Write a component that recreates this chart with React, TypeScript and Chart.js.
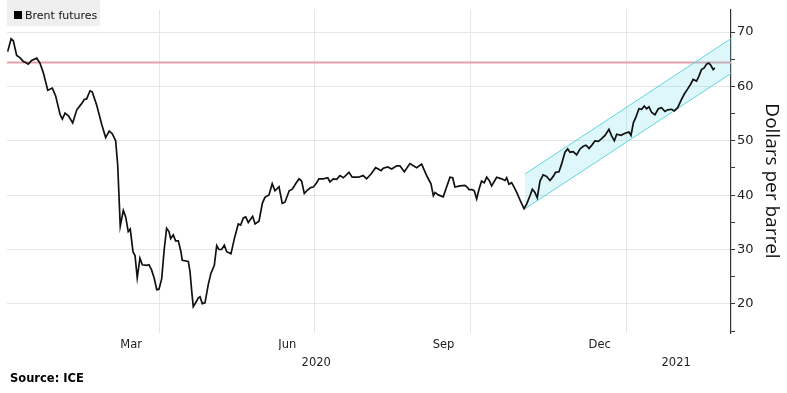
import React, { useEffect, useRef } from 'react';
import { Chart, registerables } from 'chart.js';

Chart.register(...registerables);

// Day index: days since 1 Jan 2020
const brentDays = [
  1.3, 3.3, 4.6, 6.6, 8.5, 10.5, 11.9, 13.4, 15.4, 18.4, 20.3, 22.3, 24.9, 27.6, 29.6, 32.2, 33.5, 35.1, 37.1, 39.6,
  42.0, 44.5, 46.4, 47.8, 49.8, 51.1, 53.7, 56.7, 59.0, 61.1, 62.9, 64.9, 66.1, 67.6, 69.4, 70.8, 72.3, 73.5, 75.1, 76.3,
  77.6, 79.2, 80.6, 83.2, 84.5, 86.1, 87.6, 89.1, 90.4, 92.0, 93.5, 94.9, 96.3, 97.3, 98.8, 100.2, 101.8, 103.4,
  104.1, 107.7, 108.7, 109.7, 110.6, 112.0, 113.6, 114.6, 115.9, 117.5, 119.4, 121.0, 123.0, 124.4, 125.7, 127.3, 128.9,
  130.3, 132.8, 134.8, 137.1, 138.5, 140.1, 141.5, 143.0, 145.6, 147.0, 149.3, 151.3, 152.8, 155.2, 157.1, 158.7, 161.1,
  163.0, 164.6, 167.1, 168.9, 170.9, 172.9, 174.4, 176.0, 177.7, 179.7, 181.3, 183.3, 184.6, 187.2, 189.8, 191.1, 193.1,
  195.1, 197.0, 199.0,
  202.3, 204.2, 207.8, 210.7, 212.7, 215.3, 218.0, 219.6, 221.2, 222.5, 225.1, 227.5, 230.4, 232.3, 234.9, 238.2, 240.2,
  242.2, 245.1, 247.1, 248.7, 250.6, 252.0, 253.0, 254.9, 257.8, 259.8, 261.8, 263.4, 264.7, 267.7, 270.6, 272.2, 273.0,
  274.9, 276.1, 277.5, 278.9, 280.4, 282.0, 283.4, 284.9, 286.3, 289.3, 292.2, 294.2, 295.2, 296.5, 298.1, 299.7, 301.1,
  303.6,
  305.4, 307.0, 308.9, 310.3, 311.8, 313.2, 314.8, 316.7, 318.7, 320.7, 322.6, 324.0, 326.0, 327.6, 329.5, 331.1, 332.5,
  334.4, 336.4, 338.4, 340.3, 341.9, 343.7, 345.6, 347.2, 349.2, 351.1, 353.1, 355.4, 357.0, 358.6, 360.0, 362.5, 364.9,
  367.2, 368.4, 369.8, 371.1, 373.1, 374.7, 376.2, 377.6, 379.0, 380.6, 382.5, 384.5, 386.4, 388.4, 390.0, 392.3, 393.9,
  395.9, 397.8, 399.8, 401.7, 403.7, 405.0, 407.0, 408.4, 409.9, 411.5, 412.9, 414.2, 415.4, 416.8, 417.8,
];

const brentPrices = [
  66.4, 68.75, 68.4, 65.7, 65.3, 64.6, 64.4, 64.1, 64.8, 65.2, 64.3, 62.5, 59.3, 59.7, 58.2, 54.8, 54.0, 55.1, 54.6, 53.3,
  55.7, 56.7, 57.6, 57.7, 59.2, 59.0, 56.6, 53.0, 50.6, 51.8, 51.3, 50.0, 45.5, 34.3, 37.2, 36.0, 33.3, 33.75, 29.6, 28.9,
  24.8, 28.4, 27.2, 27.1, 27.2, 26.2, 24.7, 22.6, 22.7, 24.6, 30.05, 33.9, 33.3, 32.0, 32.7, 31.6, 31.6, 29.5,
  28.0, 27.8, 25.9, 22.3, 19.5, 20.2, 21.1, 21.3, 20.05, 20.2, 23.5, 25.6, 27.1, 30.7, 30.0, 30.0, 30.8,
  29.6, 29.2, 32.0, 34.7, 34.5, 35.8, 36.0, 34.95, 36.1, 34.7, 35.2, 38.5, 39.6, 40.05, 42.1, 40.8, 41.55,
  38.5, 38.7, 40.8, 41.1, 42.1, 43.0, 42.6, 40.3, 40.9, 41.4, 41.5, 42.3, 43.0, 43.0, 43.2, 42.45, 43.0,
  42.9, 43.6, 43.2,
  44.2, 43.3, 43.3, 43.6, 43.0, 43.9, 45.05, 44.8, 44.5, 44.95, 45.2, 44.8, 45.4, 45.4, 44.3, 45.8, 45.4,
  45.05, 45.7, 44.3, 43.2, 42.1, 39.9, 40.5, 40.05, 39.7, 41.5, 43.3, 43.2, 41.5, 41.7, 41.8, 41.4, 41.0,
  41.0, 40.8, 39.3, 41.1, 42.6, 42.3, 43.3, 42.7, 41.7, 43.3, 43.0, 42.7, 43.2, 42.0, 42.3, 41.4, 40.5,
  38.7,
  37.5, 38.4, 39.9, 41.1, 40.5, 39.5, 42.6, 43.75, 43.45, 42.7, 43.45, 44.2, 44.3, 45.8, 47.9, 48.5, 47.9,
  48.0, 47.4, 48.5, 49.0, 49.2, 48.6, 49.3, 50.0, 49.9, 50.4, 51.0, 52.1, 50.9, 50.0, 51.2, 51.0, 51.4,
  51.6, 51.0, 53.3, 54.2, 55.9, 55.8, 56.4, 55.9, 56.25, 55.2, 54.8, 55.9, 56.1, 55.4, 55.7, 55.8, 55.5,
  56.1, 57.4, 58.6, 59.5, 60.5, 61.3, 61.0, 61.9, 63.1, 63.4, 64.1, 64.3, 63.9, 63.1, 63.4,
];

// Trend channel (start / end day, lower and upper bound values)
const channelDays = [306, 427.3];
const channelLower = [37.5, 62.4];
const channelUpper = [43.9, 68.8];

// Horizontal reference level
const refLevel = 64.4;

// Axis ranges and ticks
const xRange = [0.9, 427.3];
const yRange = [14.64, 74.1];
const gridDays = [91, 182, 274, 366];
const monthDays = [74, 166, 258, 350];
const monthLabels = ['Mar', 'Jun', 'Sep', 'Dec'];
const yearDays = [183, 395];
const yearLabels = ['2020', '2021'];
const yTicks = [15, 20, 25, 30, 35, 40, 45, 50, 55, 60, 65, 70];

const legendLabel = 'Brent futures';
const yTitle = 'Dollars per barrel';
const sourceText = 'Source: ICE';

const FONT = '"DejaVu Sans", sans-serif';

export default function App() {
  const ref = useRef<HTMLCanvasElement | null>(null);

  useEffect(() => {
    const canvas = ref.current;
    if (!canvas) return;

    const decor = {
      id: 'decor',
      afterDraw(chart: any) {
        const ctx = chart.ctx;
        ctx.save();
        // legend box
        ctx.fillStyle = '#efefef';
        ctx.fillRect(7, 0, 93, 26);
        ctx.fillStyle = '#000';
        ctx.fillRect(14, 11, 8, 8);
        ctx.font = '11px ' + FONT;
        ctx.textBaseline = 'alphabetic';
        ctx.textAlign = 'left';
        ctx.fillStyle = '#111';
        ctx.fillText(legendLabel, 25, 19);
        // source
        ctx.font = 'bold 11.5px ' + FONT;
        ctx.fillStyle = '#000';
        ctx.fillText(sourceText, 10, 382);
        // y title
        ctx.translate(771, 181);
        ctx.rotate(Math.PI / 2);
        ctx.textAlign = 'center';
        ctx.textBaseline = 'middle';
        ctx.font = '19px "Open Sans", sans-serif';
        ctx.fillStyle = '#111';
        ctx.fillText(yTitle, 0, 0);
        ctx.restore();
      },
    };

    const chart = new Chart(canvas, {
      type: 'line',
      data: {
        datasets: [
          {
            label: legendLabel,
            data: brentDays.map((d, i) => ({ x: d, y: brentPrices[i] })),
            borderColor: '#111',
            borderWidth: 1.7,
            pointRadius: 0,
            tension: 0,
            fill: false,
            order: 0,
          },
          {
            label: 'lower',
            data: channelDays.map((d, i) => ({ x: d, y: channelLower[i] })),
            borderColor: '#62d4dc',
            borderWidth: 1,
            pointRadius: 0,
            fill: false,
            order: 1,
          },
          {
            label: 'upper',
            data: channelDays.map((d, i) => ({ x: d, y: channelUpper[i] })),
            borderColor: '#62d4dc',
            borderWidth: 1,
            pointRadius: 0,
            fill: '-1',
            backgroundColor: 'rgba(100,220,230,0.22)',
            order: 2,
          },
          {
            label: 'ref',
            data: [
              { x: xRange[0], y: refLevel },
              { x: xRange[1], y: refLevel },
            ],
            borderColor: '#e3a2ab',
            borderWidth: 2,
            pointRadius: 0,
            fill: false,
            order: 3,
          },
        ],
      },
      options: {
        responsive: false,
        animation: false,
        devicePixelRatio: 1,
        layout: { padding: { left: 7, top: 0, right: 0, bottom: 25 } },
        plugins: {
          legend: { display: false },
          tooltip: { enabled: false },
          title: { display: false },
        },
        scales: {
          x: {
            type: 'linear',
            position: 'bottom',
            min: xRange[0],
            max: xRange[1],
            afterBuildTicks: (s: any) => {
              s.ticks = gridDays.map((v) => ({ value: v }));
            },
            grid: { color: '#e6e6e6', lineWidth: 1, drawTicks: false },
            border: { display: false },
            ticks: { display: false },
            afterFit: (s: any) => {
              s.height = 0;
            },
          },
          xm: {
            type: 'linear',
            position: 'bottom',
            min: xRange[0],
            max: xRange[1],
            afterBuildTicks: (s: any) => {
              s.ticks = monthDays.map((v) => ({ value: v }));
            },
            grid: { display: false, drawTicks: false },
            border: { display: false },
            ticks: {
              autoSkip: false,
              maxRotation: 0,
              padding: 5,
              color: '#222',
              font: { family: FONT, size: 11.5 },
              callback: (_v: any, i: number) => monthLabels[i],
            },
            afterFit: (s: any) => {
              s.height = 17;
            },
          },
          xy: {
            type: 'linear',
            position: 'bottom',
            min: xRange[0],
            max: xRange[1],
            afterBuildTicks: (s: any) => {
              s.ticks = yearDays.map((v) => ({ value: v }));
            },
            grid: { display: false, drawTicks: false },
            border: { display: false },
            ticks: {
              autoSkip: false,
              maxRotation: 0,
              padding: 6,
              color: '#222',
              font: { family: FONT, size: 11.5 },
              callback: (_v: any, i: number) => yearLabels[i],
            },
            afterFit: (s: any) => {
              s.height = 18;
            },
          },
          y: {
            type: 'linear',
            position: 'right',
            min: yRange[0],
            max: yRange[1],
            afterBuildTicks: (s: any) => {
              s.ticks = yTicks.map((v) => ({ value: v }));
            },
            grid: {
              color: (c: any) => (c.tick && c.tick.value % 10 === 0 ? '#e6e6e6' : 'rgba(0,0,0,0)'),
              tickColor: '#333',
              tickLength: 4,
              drawTicks: true,
            },
            border: { display: true, color: '#333', width: 1.2 },
            ticks: {
              padding: 2,
              color: '#222',
              font: { family: FONT, size: 13 },
              callback: (v: any) => (Number(v) % 10 === 0 ? String(v) : ''),
            },
            afterFit: (s: any) => {
              s.width = 56;
            },
          },
        },
      } as any,
      plugins: [decor],
    });

    return () => {
      chart.destroy();
    };
  }, []);

  return (
    <div style={{ position: 'fixed', left: 0, top: 0, width: 787, height: 393, background: '#fff' }}>
      <canvas ref={ref} width={787} height={393} style={{ width: 787, height: 393, display: 'block' }} />
    </div>
  );
}
